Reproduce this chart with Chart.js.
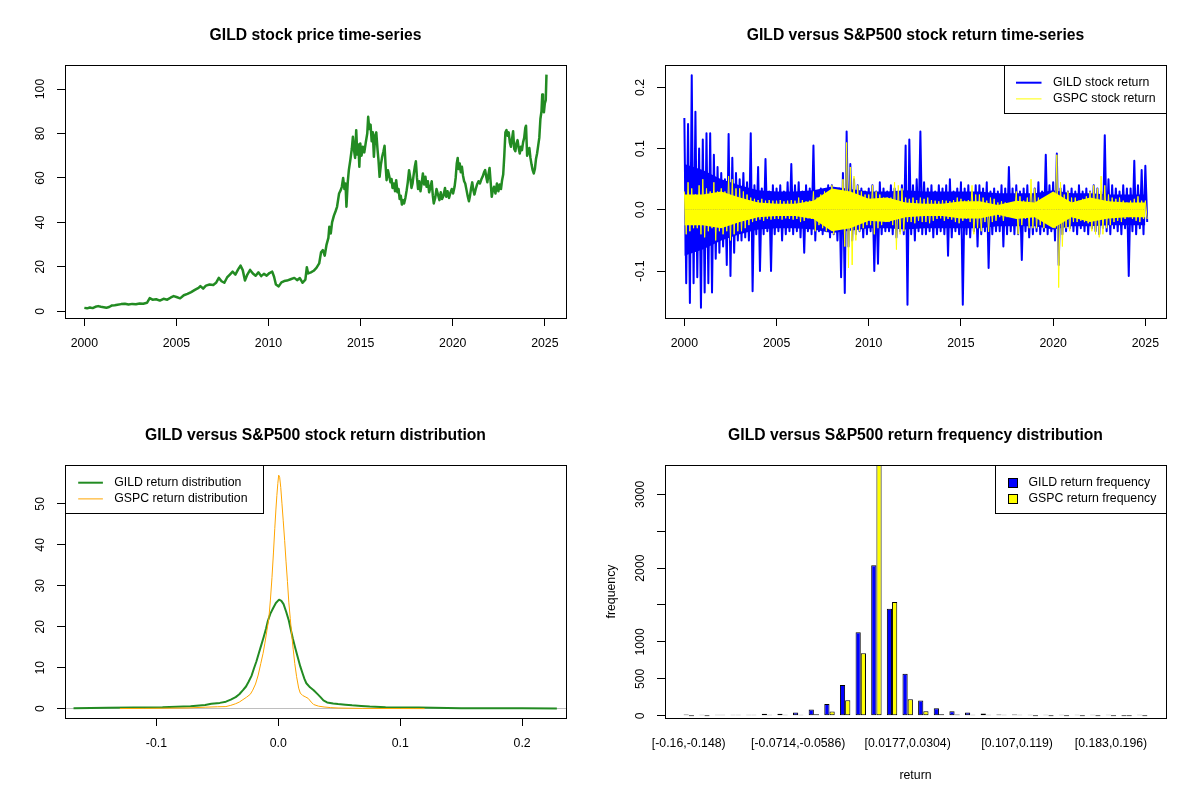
<!DOCTYPE html>
<html>
<head>
<meta charset="utf-8">
<script src="https://cdn.jsdelivr.net/npm/chart.js@4.4.1/dist/chart.umd.min.js"></script>
<style>
  body { margin: 0; background: #fff; }
  #wrap { position: relative; width: 1200px; height: 800px; }
  .panel { position: absolute; width: 600px; height: 400px; }
</style>
</head>
<body>
<div id="wrap">
  <div class="panel" style="left:0;top:0"><canvas id="price" width="600" height="400"></canvas></div>
  <div class="panel" style="left:600px;top:0"><canvas id="returns" width="600" height="400"></canvas></div>
  <div class="panel" style="left:0;top:400px"><canvas id="density" width="600" height="400"></canvas></div>
  <div class="panel" style="left:600px;top:400px"><canvas id="freq" width="600" height="400"></canvas></div>
</div>
<script>
// ---- panel 1: GILD price ----
const priceYears = [
  2000.00, 2000.15, 2000.30, 2000.45, 2000.60, 2000.75, 2000.90, 2001.05, 2001.20, 2001.35, 2001.50, 2001.65, 2001.80, 2002.00, 2002.20, 2002.40, 2002.60, 2002.80,
  2003.00, 2003.20, 2003.40, 2003.55, 2003.70, 2003.90, 2004.10, 2004.30, 2004.50, 2004.70, 2004.85, 2005.00, 2005.20, 2005.40, 2005.60, 2005.80,
  2006.00, 2006.20, 2006.30, 2006.45, 2006.60, 2006.80, 2007.00, 2007.15, 2007.30, 2007.45, 2007.60, 2007.75, 2007.90, 2008.05, 2008.20, 2008.35, 2008.48, 2008.60, 2008.72, 2008.85,
  2009.00, 2009.15, 2009.30, 2009.45, 2009.60, 2009.75, 2009.90, 2010.05, 2010.20, 2010.30, 2010.40, 2010.55, 2010.70, 2010.85, 2011.00, 2011.20, 2011.40, 2011.55, 2011.70, 2011.85,
  2012.00, 2012.08, 2012.15, 2012.30, 2012.45, 2012.60, 2012.75, 2012.85, 2012.95, 2013.05, 2013.15, 2013.25, 2013.30, 2013.38, 2013.45, 2013.55, 2013.64, 2013.72, 2013.83, 2013.92, 2013.98,
  2014.05, 2014.12, 2014.18, 2014.23, 2014.30, 2014.36, 2014.44, 2014.52, 2014.58, 2014.65, 2014.70, 2014.76, 2014.82, 2014.88, 2014.93, 2014.98, 2015.05, 2015.12, 2015.20, 2015.28, 2015.36, 2015.41, 2015.47, 2015.54, 2015.60, 2015.66, 2015.72, 2015.79, 2015.85, 2015.92, 2015.97,
  2016.03, 2016.10, 2016.17, 2016.24, 2016.30, 2016.36, 2016.41, 2016.48, 2016.55, 2016.62, 2016.68, 2016.73, 2016.80, 2016.87, 2016.93, 2017.00, 2017.06, 2017.12, 2017.18, 2017.24, 2017.30, 2017.36, 2017.43, 2017.50, 2017.56, 2017.63, 2017.70, 2017.76, 2017.82, 2017.88, 2017.94,
  2018.00, 2018.06, 2018.12, 2018.18, 2018.25, 2018.32, 2018.38, 2018.45, 2018.52, 2018.58, 2018.65, 2018.72, 2018.80, 2018.86, 2018.92, 2018.97, 2019.05, 2019.12, 2019.20, 2019.28, 2019.35, 2019.42, 2019.50, 2019.58, 2019.65, 2019.72, 2019.80, 2019.88, 2019.95,
  2020.02, 2020.10, 2020.16, 2020.22, 2020.27, 2020.32, 2020.38, 2020.44, 2020.50, 2020.56, 2020.62, 2020.68, 2020.75, 2020.82, 2020.88, 2020.94, 2021.00, 2021.06, 2021.12, 2021.18, 2021.25, 2021.32, 2021.40, 2021.48, 2021.56, 2021.62, 2021.70, 2021.76, 2021.82, 2021.88, 2021.94,
  2022.00, 2022.06, 2022.12, 2022.18, 2022.24, 2022.32, 2022.40, 2022.48, 2022.55, 2022.62, 2022.68, 2022.74, 2022.80, 2022.86, 2022.92, 2022.98, 2023.04, 2023.10, 2023.16, 2023.22, 2023.28, 2023.34, 2023.40, 2023.46, 2023.52, 2023.58, 2023.64, 2023.70, 2023.76, 2023.82, 2023.88, 2023.94, 2023.98,
  2024.04, 2024.10, 2024.16, 2024.22, 2024.28, 2024.34, 2024.40, 2024.46, 2024.52, 2024.58, 2024.64, 2024.70, 2024.76, 2024.82, 2024.86, 2024.90, 2024.95, 2025.00, 2025.05, 2025.09
];
const priceValues = [
  1.5, 1.3, 1.7, 1.4, 2.0, 2.3, 2.0, 1.8, 1.6, 1.9, 2.6, 2.7, 2.9, 3.2, 3.4, 3.0, 3.3, 3.1,
  3.5, 3.4, 3.8, 5.9, 5.2, 5.4, 4.8, 5.6, 5.2, 6.2, 6.8, 6.4, 5.8, 7.2, 7.8, 8.6,
  9.6, 10.5, 11.3, 10.2, 11.5, 12.0, 11.8, 12.8, 15.0, 13.5, 12.8, 15.2, 16.5, 17.8, 16.5, 18.8, 20.5, 18.5, 13.8, 16.5,
  18.6, 17.0, 16.0, 17.5, 15.8, 16.8, 16.0, 17.2, 17.8, 15.5, 12.0, 11.2, 13.0, 13.6, 13.8, 14.4, 15.0, 14.0, 14.9, 12.8,
  14.2, 19.8, 17.0, 17.5, 18.2, 19.5, 21.5, 26.5, 27.5, 25.0, 30.0, 33.0, 38.0, 35.0, 40.0, 43.0, 45.0, 47.0, 53.0, 54.5, 56.0,
  60.0, 55.0, 57.5, 47.0, 58.0, 63.5, 68.0, 73.0, 78.5, 72.0, 69.0, 81.5, 70.5, 75.0, 65.0, 75.5, 70.0, 74.0, 71.5, 76.0, 80.0, 87.5, 82.0, 84.0, 76.5, 80.5, 69.5, 79.0, 80.5, 72.5, 68.0,
  60.5, 66.0, 69.5, 72.0, 74.5, 65.0, 59.0, 63.5, 61.0, 58.0, 59.5, 55.5, 57.5, 54.0, 59.0, 53.5, 55.0, 50.5, 52.0, 48.0, 50.0, 48.5, 51.0, 54.5, 58.0, 63.5, 60.0, 55.5, 57.5, 61.5, 65.0,
  67.5, 60.0, 55.0, 58.5, 54.0, 58.0, 62.0, 57.0, 60.5, 56.0, 58.5, 53.5, 56.0, 58.5, 52.0, 48.5, 51.0, 55.0, 52.5, 50.0, 53.5, 50.5, 52.0, 55.5, 51.5, 54.0, 51.0, 53.5, 55.0,
  53.0, 56.0, 60.0, 66.5, 69.0, 64.0, 66.5, 62.5, 65.0, 61.0, 58.5, 57.5, 54.5, 51.5, 49.5, 52.0, 55.5, 58.0, 54.5, 52.5, 55.0, 57.0, 58.5, 57.5, 59.5, 60.5, 62.5, 63.5, 60.5, 58.0, 61.5,
  64.5, 58.0, 51.5, 54.5, 56.0, 53.0, 57.5, 54.0, 57.0, 55.0, 59.0, 61.5, 70.0, 80.5, 81.5, 79.0, 80.5, 76.0, 74.0, 77.5, 81.0, 73.0, 72.0, 75.5, 77.0, 73.5, 71.0, 74.0, 72.5, 76.0, 78.0, 82.5, 83.5,
  70.0, 72.0, 73.5, 69.0, 66.0, 63.5, 62.0, 64.0, 68.5, 71.0, 74.5, 78.0, 86.5, 90.0, 97.5, 93.0, 89.5, 93.5, 95.0, 106.5
];
const yearTicks = [2000, 2005, 2010, 2015, 2020, 2025];
const priceTicks = [0, 20, 40, 60, 80, 100];

// ---- panel 2: daily returns, read as up / down swings every 0.2 year ----
const retStart = 2000;
const retStep = 0.2;
const gildUp = [
  0.15, 0.14, 0.22, 0.16, 0.10,   0.115, 0.125, 0.125, 0.09, 0.07,   0.06, 0.05, 0.124, 0.085, 0.06,
  0.05, 0.06, 0.045, 0.125, 0.04,  0.07, 0.035, 0.083, 0.03, 0.04,   0.035, 0.04, 0.03, 0.045, 0.075,
  0.04, 0.045, 0.03, 0.04, 0.035,  0.105, 0.03, 0.035, 0.03, 0.04,   0.04, 0.03, 0.035, 0.06, 0.128,
  0.075, 0.05, 0.04, 0.035, 0.03,  0.035, 0.04, 0.03, 0.045, 0.035,  0.03, 0.04, 0.035, 0.03, 0.04,
  0.105, 0.115, 0.04, 0.05, 0.128, 0.045, 0.035, 0.04, 0.03, 0.04,   0.035, 0.04, 0.05, 0.03, 0.035,
  0.045, 0.035, 0.04, 0.03, 0.04,  0.04, 0.035, 0.045, 0.03, 0.035,  0.03, 0.04, 0.035, 0.07, 0.035,
  0.04, 0.03, 0.035, 0.04, 0.03,   0.035, 0.045, 0.03, 0.09, 0.04,   0.045, 0.092, 0.035, 0.04, 0.03,
  0.035, 0.03, 0.04, 0.03, 0.035,  0.03, 0.04, 0.035, 0.03, 0.122,   0.05, 0.04, 0.035, 0.03, 0.04,
  0.035, 0.035, 0.08, 0.04, 0.065, 0.072
];
const gildDown = [
  -0.12, -0.152, -0.12, -0.11, -0.16,   -0.135, -0.12, -0.135, -0.08, -0.07,   -0.06, -0.09, -0.108, -0.07, -0.05,
  -0.05, -0.045, -0.05, -0.133, -0.04,  -0.1, -0.04, -0.035, -0.1, -0.04,      -0.035, -0.05, -0.04, -0.035, -0.04,
  -0.035, -0.045, -0.07, -0.035, -0.04, -0.05, -0.035, -0.04, -0.035, -0.045,  -0.04, -0.05, -0.11, -0.136, -0.06,
  -0.05, -0.04, -0.035, -0.045, -0.04,  -0.035, -0.1, -0.088, -0.04, -0.035,   -0.035, -0.04, -0.045, -0.035, -0.04,
  -0.155, -0.04, -0.05, -0.035, -0.04,  -0.04, -0.035, -0.045, -0.04, -0.035,  -0.04, -0.075, -0.045, -0.035, -0.04,
  -0.155, -0.04, -0.045, -0.035, -0.06, -0.04, -0.035, -0.095, -0.04, -0.035,  -0.035, -0.06, -0.04, -0.035, -0.04,
  -0.04, -0.082, -0.035, -0.045, -0.04, -0.035, -0.04, -0.035, -0.04, -0.035,  -0.05, -0.09, -0.04, -0.035, -0.03,
  -0.035, -0.04, -0.03, -0.035, -0.04,  -0.03, -0.035, -0.04, -0.03, -0.035,   -0.04, -0.03, -0.035, -0.04, -0.03,
  -0.108, -0.035, -0.04, -0.03, -0.04,  -0.02
];
const gspcUp = [
  0.03, 0.045, 0.035, 0.025, 0.04,    0.05, 0.035, 0.03, 0.045, 0.03,    0.035, 0.03, 0.055, 0.05, 0.035,
  0.035, 0.03, 0.025, 0.02, 0.018,    0.016, 0.018, 0.015, 0.016, 0.015, 0.015, 0.016, 0.014, 0.015, 0.016,
  0.015, 0.02, 0.016, 0.014, 0.015,   0.03, 0.02, 0.025, 0.03, 0.025,    0.04, 0.03, 0.03, 0.05, 0.11,
  0.07, 0.055, 0.04, 0.03, 0.025,     0.025, 0.04, 0.03, 0.025, 0.02,    0.02, 0.02, 0.045, 0.04, 0.035,
  0.02, 0.018, 0.02, 0.016, 0.02,     0.018, 0.02, 0.016, 0.015, 0.014,  0.016, 0.015, 0.014, 0.016, 0.02,
  0.018, 0.015, 0.016, 0.04, 0.025,   0.025, 0.02, 0.015, 0.02, 0.018,   0.012, 0.014, 0.012, 0.01, 0.012,
  0.03, 0.022, 0.015, 0.02, 0.05,     0.035, 0.02, 0.018, 0.02, 0.015,   0.02, 0.09, 0.045, 0.025, 0.03,
  0.02, 0.02, 0.015, 0.018, 0.022,    0.03, 0.04, 0.035, 0.055, 0.04,    0.025, 0.02, 0.018, 0.02, 0.015,
  0.012, 0.015, 0.018, 0.022, 0.015,  0.015
];
const gspcDown = [
  -0.04, -0.035, -0.03, -0.03, -0.04,      -0.045, -0.035, -0.03, -0.05, -0.035,    -0.04, -0.035, -0.05, -0.04, -0.035,
  -0.035, -0.03, -0.025, -0.02, -0.018,    -0.016, -0.018, -0.015, -0.016, -0.015,  -0.015, -0.016, -0.014, -0.015, -0.016,
  -0.015, -0.02, -0.018, -0.014, -0.015,   -0.035, -0.025, -0.03, -0.035, -0.03,    -0.04, -0.03, -0.03, -0.06, -0.095,
  -0.09, -0.05, -0.035, -0.03, -0.025,     -0.025, -0.04, -0.03, -0.025, -0.02,     -0.02, -0.025, -0.065, -0.04, -0.035,
  -0.02, -0.02, -0.022, -0.018, -0.02,     -0.02, -0.022, -0.018, -0.015, -0.014,   -0.018, -0.015, -0.016, -0.02, -0.022,
  -0.018, -0.015, -0.02, -0.04, -0.03,     -0.035, -0.02, -0.036, -0.02, -0.018,    -0.012, -0.018, -0.012, -0.01, -0.012,
  -0.04, -0.025, -0.015, -0.03, -0.03,     -0.03, -0.025, -0.03, -0.02, -0.015,     -0.03, -0.127, -0.06, -0.03, -0.035,
  -0.02, -0.02, -0.018, -0.02, -0.022,     -0.035, -0.04, -0.045, -0.04, -0.03,     -0.025, -0.02, -0.018, -0.02, -0.015,
  -0.012, -0.015, -0.018, -0.02, -0.015,   -0.015
];
// half-width of the solid core of daily moves, one value per year 2000..2025
const gildCore = [0.075, 0.065, 0.05, 0.04, 0.032, 0.03, 0.03, 0.032, 0.038, 0.034, 0.03, 0.03, 0.032,
  0.03, 0.03, 0.03, 0.03, 0.027, 0.027, 0.027, 0.032, 0.027, 0.027, 0.025, 0.025, 0.025];
const gspcCore = [0.025, 0.025, 0.03, 0.02, 0.012, 0.01, 0.01, 0.015, 0.035, 0.03, 0.018, 0.02, 0.012,
  0.01, 0.01, 0.014, 0.014, 0.008, 0.015, 0.012, 0.03, 0.012, 0.02, 0.014, 0.012, 0.012];
const retTicks = [-0.1, 0.0, 0.1, 0.2];

// ---- panel 3: kernel densities ----
const gildDensX = [-0.168, -0.14, -0.118, -0.095, -0.072, -0.06, -0.055, -0.048, -0.043, -0.039, -0.035, -0.032, -0.029, -0.0265, -0.0245, -0.022, -0.020, -0.018, -0.016, -0.014,
  -0.012, -0.010, -0.0086, -0.0065, -0.0043, -0.002, 0.0006, 0.0025, 0.0043, 0.0065, 0.0086, 0.0103, 0.012, 0.014, 0.016, 0.018, 0.020, 0.0215, 0.023, 0.026,
  0.029, 0.032, 0.0346, 0.037, 0.040, 0.045, 0.049, 0.055, 0.0605, 0.068, 0.075, 0.088, 0.101, 0.115, 0.127, 0.15, 0.17, 0.2, 0.2285];
const gildDensY = [0.12, 0.2, 0.3, 0.35, 0.6, 0.9, 1.2, 1.4, 1.7, 2.2, 2.8, 3.5, 4.5, 5.4, 6.5, 8.0, 9.8, 11.5, 13.5, 15.5,
  17.5, 19.6, 21.4, 23.2, 24.5, 25.8, 26.6, 26.3, 25.5, 23.6, 21.5, 19.2, 17.0, 14.7, 12.5, 10.3, 8.5, 7.2, 6.2, 5.2,
  4.5, 3.6, 2.8, 2.0, 1.5, 1.25, 1.1, 0.95, 0.8, 0.65, 0.5, 0.35, 0.3, 0.25, 0.2, 0.12, 0.08, 0.06, 0.05];
const gspcDensX = [-0.13, -0.11, -0.095, -0.075, -0.06, -0.05, -0.043, -0.039, -0.035, -0.032, -0.029, -0.026, -0.023, -0.021, -0.0187, -0.0165, -0.0144, -0.0125, -0.011, -0.0094,
  -0.0078, -0.0065, -0.0052, -0.004, -0.0029, -0.002, -0.0012, -0.0004, 0.0003, 0.0011, 0.002, 0.003, 0.004, 0.0052, 0.0063, 0.0075, 0.0086, 0.0098, 0.011, 0.0122,
  0.0135, 0.015, 0.0167, 0.018, 0.020, 0.022, 0.0245, 0.027, 0.029, 0.033, 0.0375, 0.043, 0.049, 0.058, 0.069, 0.085, 0.1, 0.112, 0.12];
const gspcDensY = [0.02, 0.05, 0.1, 0.15, 0.35, 0.45, 0.5, 0.8, 1.2, 1.6, 2.2, 2.8, 3.5, 4.5, 6.0, 8.2, 11.0, 13.5, 16.0, 19.0,
  22.0, 26.5, 32.0, 38.0, 44.0, 48.5, 52.0, 55.0, 57.0, 56.5, 54.0, 50.0, 46.0, 41.0, 36.0, 31.0, 26.0, 22.0, 18.0, 14.5,
  11.0, 7.8, 5.0, 3.8, 3.2, 2.9, 2.5, 1.6, 1.0, 0.6, 0.4, 0.25, 0.15, 0.1, 0.05, 0.03, 0.02, 0.01, 0.0];
const densXTicks = [-0.1, 0.0, 0.1, 0.2];
const densYTicks = [0, 10, 20, 30, 40, 50];

// ---- panel 4: histogram counts per return bin ----
const binLabels = [
  '[-0.16,-0.148)', '[-0.148,-0.135)', '[-0.135,-0.122)', '[-0.122,-0.11)', '[-0.11,-0.0969)', '[-0.0969,-0.0841)',
  '[-0.0841,-0.0714)', '[-0.0714,-0.0586)', '[-0.0586,-0.0459)', '[-0.0459,-0.0332)', '[-0.0332,-0.0205)', '[-0.0205,-0.00775)',
  '[-0.00775,0.00498)', '[0.00498,0.0177)', '[0.0177,0.0304)', '[0.0304,0.0432)', '[0.0432,0.0559)', '[0.0559,0.0686)',
  '[0.0686,0.0814)', '[0.0814,0.0941)', '[0.0941,0.107)', '[0.107,0.119)', '[0.119,0.132)', '[0.132,0.145)',
  '[0.145,0.158)', '[0.158,0.17)', '[0.17,0.183)', '[0.183,0.196)', '[0.196,0.209)', '[0.209,0.221]'
];
const shownBins = [0, 7, 14, 21, 27];
const gildFreq = [15, 3, 14, 14, 12, 25, 28, 45, 85, 158, 415, 1130, 2040, 1450, 570, 205, 100, 60, 45, 30, 18, 16, 14, 3, 2, 2, 1, 2, 0, 1];
const gspcFreq = [0, 0, 1, 2, 3, 6, 8, 12, 20, 58, 208, 845, 3550, 1540, 222, 60, 20, 15, 5, 3, 2, 1, 0, 0, 0, 0, 0, 0, 0, 0];
const freqTicks = [0, 500, 1000, 1500, 2000, 2500, 3000];
const freqLabels = [0, 500, 1000, 2000, 3000];

// ---------------------------------------------------------------
const FONT = '"Liberation Sans", Arial, sans-serif';
Chart.defaults.font.family = FONT;
Chart.defaults.font.size = 12.3;
Chart.defaults.color = '#000';

// R-style box around the plot region plus an optional boxed legend
const rFrame = {
  id: 'rframe',
  afterDraw(chart, args, opts) {
    const ctx = chart.ctx, a = chart.chartArea;
    ctx.save();
    ctx.strokeStyle = '#000';
    ctx.lineWidth = 1;
    const l = Math.round(a.left) + 0.5, t = Math.round(a.top) + 0.5;
    const r = Math.round(a.right) + 0.5, b = Math.round(a.bottom) + 0.5;
    ctx.strokeRect(l, t, r - l, b - t);
    const lg = opts.legend;
    if (lg) {
      const x0 = lg.side === 'left' ? l : r - lg.width;
      ctx.fillStyle = '#fff';
      ctx.fillRect(x0, t, lg.width, lg.height);
      ctx.strokeRect(x0, t, lg.width, lg.height);
      ctx.font = '12.3px ' + FONT;
      ctx.textBaseline = 'middle';
      ctx.textAlign = 'left';
      chart.data.datasets.filter(ds => ds.label).forEach((ds, i) => {
        const cy = t + lg.rows[i];
        if (lg.sample === 'box') {
          ctx.fillStyle = ds.backgroundColor;
          ctx.fillRect(x0 + lg.boxX, Math.round(cy - 4.5) + 0.5, 9, 9);
          ctx.strokeStyle = '#000';
          ctx.lineWidth = 1;
          ctx.strokeRect(x0 + lg.boxX, Math.round(cy - 4.5) + 0.5, 9, 9);
        } else {
          ctx.strokeStyle = ds.borderColor;
          ctx.lineWidth = ds.borderWidth;
          ctx.beginPath();
          ctx.moveTo(x0 + lg.from, cy);
          ctx.lineTo(x0 + lg.to, cy);
          ctx.stroke();
        }
        ctx.fillStyle = '#000';
        ctx.fillText(ds.label, x0 + lg.textX, cy);
      });
    }
    ctx.restore();
  }
};
Chart.register(rFrame);

function fixedTicks(values) {
  return axis => { axis.ticks = values.map(v => ({ value: v })); };
}
function tickGrid() {
  return { drawOnChartArea: false, tickLength: 8, color: '#000', lineWidth: 1 };
}
function xAxis(min, max, ticks, label) {
  return {
    type: 'linear', min: min, max: max, offset: false,
    afterBuildTicks: fixedTicks(ticks),
    afterFit: axis => { axis.height = 82; },
    border: { display: false },
    grid: tickGrid(),
    ticks: { autoSkip: false, maxRotation: 0, padding: 10, callback: label }
  };
}
function yAxis(min, max, ticks, label, pad) {
  return {
    type: 'linear', min: min, max: max,
    afterBuildTicks: fixedTicks(ticks),
    afterFit: axis => { axis.width = 65; },
    border: { display: false },
    grid: tickGrid(),
    ticks: { autoSkip: false, minRotation: 90, maxRotation: 90, crossAlign: 'center', padding: pad, callback: label }
  };
}
function options(title, xs, ys, legend) {
  return {
    responsive: false,
    animation: false,
    layout: { padding: { left: 0, right: 34, top: 0, bottom: 0 } },
    plugins: {
      legend: { display: false },
      tooltip: { enabled: false },
      title: { display: true, text: title, fullSize: false, font: { size: 15.7, weight: 'bold' }, padding: { top: 26, bottom: 20.2 } },
      rframe: { legend: legend || null }
    },
    scales: { x: xs, y: ys }
  };
}
const asText = v => String(v);
const oneDecimal = v => v.toFixed(1);
const xy = (xs, ys) => xs.map((x, i) => ({ x: x, y: ys[i] }));
function swings(up, down) {
  const pts = [];
  up.forEach((u, i) => {
    pts.push({ x: retStart + i * retStep, y: u });
    if (i < down.length) pts.push({ x: retStart + i * retStep + retStep / 2, y: down[i] });
  });
  return pts;
}
const core = (w, sign) => w.map((v, i) => ({ x: retStart + i, y: sign * v }));
const lineStyle = { pointRadius: 0, tension: 0, fill: false, borderJoinStyle: 'round' };
// solid core of a return series: filled from the zero line up and down
function coreSets(widths, color, order) {
  return [1, -1].map(sign => Object.assign({}, lineStyle, {
    data: core(widths, sign), borderColor: color, borderWidth: 0,
    backgroundColor: color, fill: 'origin', order: order
  }));
}

// panel 1
new Chart('price', {
  type: 'line',
  data: { datasets: [
    Object.assign({ label: 'GILD', data: xy(priceYears, priceValues), borderColor: '#228B22', borderWidth: 2.5 }, lineStyle)
  ] },
  options: options('GILD stock price time-series',
    xAxis(1998.95, 2026.15, yearTicks, asText),
    yAxis(-3.05, 110.8, priceTicks, asText, 5.7))
});

// panel 2
new Chart('returns', {
  type: 'line',
  data: { datasets: [
    Object.assign({ label: 'GILD stock return', data: swings(gildUp, gildDown), borderColor: '#0000FF', borderWidth: 2, order: 2 }, lineStyle),
    Object.assign({ label: 'GSPC stock return', data: swings(gspcUp, gspcDown), borderColor: '#FFFF00', borderWidth: 1, order: 0 }, lineStyle)
  ].concat(coreSets(gildCore, '#0000FF', 3), coreSets(gspcCore, '#FFFF00', 1)) },
  options: options('GILD versus S&P500 stock return time-series',
    xAxis(1998.95, 2026.12, yearTicks, asText),
    yAxis(-0.1767, 0.2365, retTicks, oneDecimal, 5.4),
    { side: 'right', width: 162, height: 48, rows: [17.2, 33.4], from: 11.5, to: 37, textX: 48.5 })
});

// panel 3
const densY = yAxis(-2.29, 59.47, densYTicks, asText, 9.1);
densY.grid = {
  drawOnChartArea: true, tickLength: 8, lineWidth: 1, tickColor: '#000',
  color: c => (c.tick && c.tick.value === 0 ? '#BEBEBE' : 'rgba(0,0,0,0)')
};
new Chart('density', {
  type: 'line',
  data: { datasets: [
    Object.assign({ label: 'GILD return distribution', data: xy(gildDensX, gildDensY), borderColor: '#228B22', borderWidth: 2, order: 1 }, lineStyle),
    Object.assign({ label: 'GSPC return distribution', data: xy(gspcDensX, gspcDensY), borderColor: '#FFA500', borderWidth: 1, order: 0 }, lineStyle)
  ] },
  options: options('GILD versus S&P500 stock return distribution',
    xAxis(-0.175, 0.236, densXTicks, oneDecimal),
    densY,
    { side: 'left', width: 198, height: 48, rows: [17.2, 33.4], from: 12.7, to: 37.4, textX: 48.7 })
});

// panel 4: groups of two bars at 2, 5, 8, ... like R's barplot(beside = TRUE)
const groupPos = k => 2 + 3 * k;
const freqX = xAxis(-2.56, 93.56, shownBins.map(groupPos), (v, i) => binLabels[shownBins[i]]);
freqX.grid = { display: false, offset: false };
freqX.ticks.padding = 10.6;
freqX.title = { display: true, text: 'return', font: { size: 12.3 }, padding: { top: 0, bottom: 16.6 } };
const freqY = yAxis(-31, 3396, freqTicks, v => (freqLabels.includes(v) ? String(v) : ''), 2.3);
freqY.title = { display: true, text: 'frequency', font: { size: 12.3 }, padding: { top: 4.6, bottom: 0 } };
const barStyle = { borderColor: '#000', borderWidth: 1, borderSkipped: false, categoryPercentage: 2 / 3, barPercentage: 1, minBarLength: 1, clip: 0 };
new Chart('freq', {
  type: 'bar',
  data: { datasets: [
    Object.assign({ label: 'GILD return frequency', data: gildFreq.map((v, k) => ({ x: groupPos(k), y: v })), backgroundColor: '#0000FF' }, barStyle),
    Object.assign({ label: 'GSPC return frequency', data: gspcFreq.map((v, k) => ({ x: groupPos(k), y: v })), backgroundColor: '#FFFF00' }, barStyle)
  ] },
  options: options('GILD versus S&P500 return frequency distribution', freqX, freqY,
    { side: 'right', width: 171, height: 48, rows: [17.2, 33.4], sample: 'box', boxX: 13, textX: 33 })
});
</script>
</body>
</html>
